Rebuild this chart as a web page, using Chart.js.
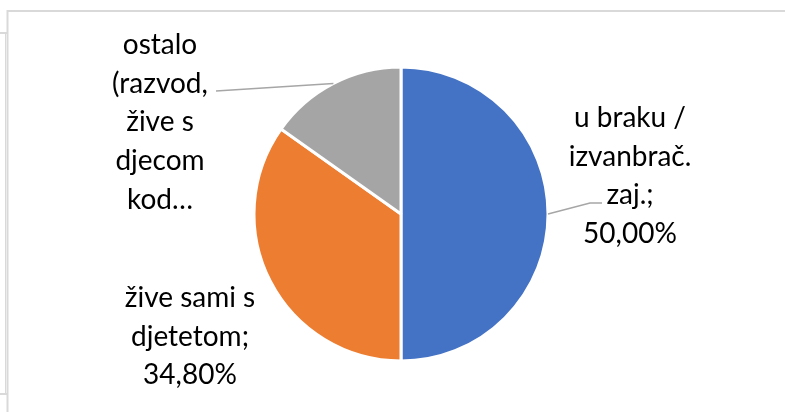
<!DOCTYPE html>
<html>
<head>
<meta charset="utf-8">
<script src="https://cdn.jsdelivr.net/npm/chart.js@4/dist/chart.umd.min.js"></script>
<style>
  html, body { margin: 0; padding: 0; background: #fff; }
  canvas { display: block; }
</style>
</head>
<body>
<canvas id="myChart" width="785" height="412"></canvas>
<script>
// data
const categories = [
    ['u braku /', 'izvanbrač.', 'zaj.'],
    ['žive sami s', 'djetetom'],
    ['ostalo', '(razvod,', 'žive s', 'djecom', 'kod…']
];
const shares = [50.0, 34.8, 15.2];
const showValue = [true, true, false];
const sliceColors = ['#4472C4', '#ED7D31', '#A5A5A5'];

// where each label sits, relative to the pie centre (first baseline, text centre)
const labelPlace = [
    { dx: 229, dy: -87, leader: [[189, -11], [201, -11]] },
    { dx: -211, dy: 93, leader: null },
    { dx: -241, dy: -160, leader: [[-185, -123]] }
];

const FONT = '28px Lato';
const LINE_H = 38.7;

function fmtPct(v) {
    return v.toFixed(2).replace('.', ',') + '%';
}

const frame = {
    id: 'frame',
    beforeDraw(chart) {
        const c = chart.ctx;
        c.save();
        c.strokeStyle = '#d9d9d9';
        c.lineWidth = 2;
        c.beginPath();
        c.moveTo(785, 11); c.lineTo(7.5, 11); c.lineTo(7.5, 412);
        c.moveTo(0, 33); c.lineTo(7, 33);
        c.moveTo(0, 394); c.lineTo(7, 394);
        c.stroke();
        c.lineWidth = 1;
        c.beginPath();
        c.moveTo(5.5, 33); c.lineTo(5.5, 394);
        c.stroke();
        c.restore();
    }
};

const outsideLabels = {
    id: 'outsideLabels',
    afterDatasetsDraw(chart) {
        const c = chart.ctx;
        const meta = chart.getDatasetMeta(0);
        c.save();
        meta.data.forEach(function (arc, i) {
            const p = labelPlace[i];
            const cx = arc.x, cy = arc.y;
            const mid = (arc.startAngle + arc.endAngle) / 2;
            if (p.leader) {
                c.strokeStyle = '#a6a6a6';
                c.lineWidth = 1.5;
                c.beginPath();
                c.moveTo(cx + Math.cos(mid) * arc.outerRadius, cy + Math.sin(mid) * arc.outerRadius);
                p.leader.forEach(function (pt) { c.lineTo(cx + pt[0], cy + pt[1]); });
                c.stroke();
            }
            var lines = categories[i].slice();
            if (showValue[i]) {
                lines[lines.length - 1] += ';';
                lines.push(fmtPct(shares[i]));
            }
            c.fillStyle = '#000';
            c.font = FONT;
            c.textAlign = 'center';
            c.textBaseline = 'alphabetic';
            lines.forEach(function (t, k) {
                c.fillText(t, cx + p.dx, cy + p.dy + k * LINE_H);
            });
        });
        c.restore();
    }
};

const ctx = document.getElementById('myChart');
new Chart(ctx, {
    type: 'pie',
    data: {
        labels: categories,
        datasets: [{
            data: shares,
            backgroundColor: sliceColors,
            borderColor: '#ffffff',
            borderWidth: 3,
            hoverOffset: 0
        }]
    },
    options: {
        responsive: false,
        animation: false,
        radius: 147,
        layout: { padding: { left: 117, right: 100, top: 56, bottom: 40 } },
        plugins: {
            legend: { display: false },
            tooltip: { enabled: false }
        }
    },
    plugins: [frame, outsideLabels]
});
</script>
</body>
</html>
